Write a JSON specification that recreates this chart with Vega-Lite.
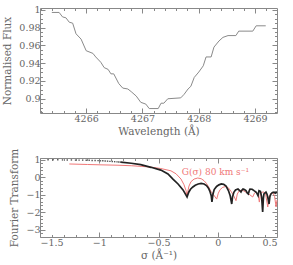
{
  "$schema": "https://vega.github.io/schema/vega-lite/v6.json",
  "padding": {"left": 2, "top": 4, "right": 0, "bottom": 0},
  "bounds": "flush",
  "spacing": 45,
  "config": {
    "font": "DejaVu Serif",
    "view": {"stroke": "#888", "strokeWidth": 1},
    "axis": {
      "grid": false, "domain": false,
      "labelFont": "DejaVu Serif", "titleFont": "DejaVu Serif",
      "labelFontSize": 9.5, "titleFontSize": 10.5,
      "labelColor": "#666", "titleColor": "#666", "titleFontWeight": "normal",
      "tickColor": "#888", "tickSize": -5, "labelPadding": 5
    }
  },
  "datasets": {
    "flux": [
      {"wl": 4265.39, "f": 0.997}, {"wl": 4265.52, "f": 0.997}, {"wl": 4265.58, "f": 0.992},
      {"wl": 4265.64, "f": 0.991}, {"wl": 4265.70, "f": 0.986}, {"wl": 4265.76, "f": 0.985},
      {"wl": 4265.82, "f": 0.973}, {"wl": 4265.91, "f": 0.967}, {"wl": 4266.00, "f": 0.954},
      {"wl": 4266.12, "f": 0.951}, {"wl": 4266.17, "f": 0.947}, {"wl": 4266.26, "f": 0.941},
      {"wl": 4266.32, "f": 0.935}, {"wl": 4266.39, "f": 0.933}, {"wl": 4266.44, "f": 0.928},
      {"wl": 4266.49, "f": 0.928}, {"wl": 4266.58, "f": 0.917}, {"wl": 4266.65, "f": 0.912},
      {"wl": 4266.74, "f": 0.911}, {"wl": 4266.80, "f": 0.908}, {"wl": 4266.89, "f": 0.903},
      {"wl": 4266.97, "f": 0.896}, {"wl": 4267.06, "f": 0.894}, {"wl": 4267.12, "f": 0.889},
      {"wl": 4267.28, "f": 0.889}, {"wl": 4267.33, "f": 0.895}, {"wl": 4267.38, "f": 0.895},
      {"wl": 4267.45, "f": 0.900}, {"wl": 4267.68, "f": 0.901}, {"wl": 4267.74, "f": 0.905},
      {"wl": 4267.81, "f": 0.911}, {"wl": 4267.86, "f": 0.914}, {"wl": 4267.92, "f": 0.924},
      {"wl": 4268.00, "f": 0.930}, {"wl": 4268.08, "f": 0.937}, {"wl": 4268.13, "f": 0.947},
      {"wl": 4268.22, "f": 0.947}, {"wl": 4268.27, "f": 0.958}, {"wl": 4268.36, "f": 0.965},
      {"wl": 4268.43, "f": 0.969}, {"wl": 4268.52, "f": 0.971}, {"wl": 4268.66, "f": 0.971},
      {"wl": 4268.71, "f": 0.976}, {"wl": 4268.96, "f": 0.976}, {"wl": 4269.02, "f": 0.982},
      {"wl": 4269.19, "f": 0.982}
    ],
    "ftpts": [
      {"s": -1.432, "v": 1.0}, {"s": -1.39, "v": 1.0}, {"s": -1.35, "v": 1.0}, {"s": -1.31, "v": 0.99},
      {"s": -1.27, "v": 0.99}, {"s": -1.235, "v": 0.99}, {"s": -1.2, "v": 0.98}, {"s": -1.17, "v": 0.98},
      {"s": -1.14, "v": 0.98}, {"s": -1.11, "v": 0.97}, {"s": -1.085, "v": 0.97}, {"s": -1.06, "v": 0.96},
      {"s": -1.035, "v": 0.96}, {"s": -1.01, "v": 0.95}, {"s": -0.99, "v": 0.94}, {"s": -0.97, "v": 0.94},
      {"s": -0.95, "v": 0.93}, {"s": -0.93, "v": 0.92}, {"s": -0.91, "v": 0.91}, {"s": -0.89, "v": 0.90},
      {"s": -0.87, "v": 0.89}, {"s": -0.85, "v": 0.88}, {"s": -0.835, "v": 0.87}, {"s": -0.82, "v": 0.86}
    ],
    "ftline": [
      {"s": -0.82, "v": 0.86}, {"s": -0.73, "v": 0.80}, {"s": -0.65, "v": 0.72}, {"s": -0.563, "v": 0.57},
      {"s": -0.48, "v": 0.41}, {"s": -0.42, "v": 0.19}, {"s": -0.378, "v": -0.1}, {"s": -0.335, "v": -0.38},
      {"s": -0.293, "v": -0.72}, {"s": -0.259, "v": -1.12}, {"s": -0.245, "v": -0.85}, {"s": -0.23, "v": -0.68},
      {"s": -0.21, "v": -0.55}, {"s": -0.19, "v": -0.45}, {"s": -0.165, "v": -0.38}, {"s": -0.14, "v": -0.35},
      {"s": -0.115, "v": -0.38}, {"s": -0.095, "v": -0.47}, {"s": -0.078, "v": -0.62}, {"s": -0.065, "v": -0.82},
      {"s": -0.055, "v": -1.05}, {"s": -0.049, "v": -1.4}, {"s": -0.04, "v": -0.95}, {"s": -0.03, "v": -0.7},
      {"s": -0.01, "v": -0.52}, {"s": 0.01, "v": -0.43}, {"s": 0.03, "v": -0.38}, {"s": 0.05, "v": -0.40},
      {"s": 0.07, "v": -0.5}, {"s": 0.09, "v": -0.75}, {"s": 0.105, "v": -1.05}, {"s": 0.118, "v": -1.52},
      {"s": 0.125, "v": -1.1}, {"s": 0.137, "v": -0.84}, {"s": 0.15, "v": -0.72}, {"s": 0.171, "v": -0.67},
      {"s": 0.185, "v": -0.75}, {"s": 0.196, "v": -0.84}, {"s": 0.205, "v": -0.72}, {"s": 0.213, "v": -0.67},
      {"s": 0.225, "v": -0.70}, {"s": 0.238, "v": -0.76}, {"s": 0.25, "v": -0.9}, {"s": 0.258, "v": -0.95},
      {"s": 0.265, "v": -0.78}, {"s": 0.272, "v": -0.67}, {"s": 0.29, "v": -0.68}, {"s": 0.306, "v": -0.76},
      {"s": 0.325, "v": -0.85}, {"s": 0.34, "v": -1.05}, {"s": 0.348, "v": -0.76}, {"s": 0.36, "v": -0.8},
      {"s": 0.37, "v": -1.1}, {"s": 0.379, "v": -1.97}, {"s": 0.385, "v": -1.2}, {"s": 0.39, "v": -0.95},
      {"s": 0.407, "v": -0.84}, {"s": 0.415, "v": -0.95}, {"s": 0.422, "v": -1.12}, {"s": 0.433, "v": -1.52},
      {"s": 0.44, "v": -1.1}, {"s": 0.449, "v": -0.95}, {"s": 0.462, "v": -0.86}, {"s": 0.475, "v": -0.84},
      {"s": 0.485, "v": -0.9}, {"s": 0.5, "v": -0.85}
    ],
    "gauss": [
      {"s": -1.253, "v": 0.76}, {"s": -1.1, "v": 0.73}, {"s": -0.985, "v": 0.71}, {"s": -0.85, "v": 0.69},
      {"s": -0.73, "v": 0.66}, {"s": -0.64, "v": 0.62}, {"s": -0.563, "v": 0.58}, {"s": -0.48, "v": 0.50},
      {"s": -0.395, "v": 0.37}, {"s": -0.352, "v": 0.20}, {"s": -0.31, "v": -0.10}, {"s": -0.285, "v": -0.42},
      {"s": -0.268, "v": -0.75}, {"s": -0.259, "v": -1.1}, {"s": -0.25, "v": -0.72}, {"s": -0.243, "v": -0.5},
      {"s": -0.226, "v": -0.25}, {"s": -0.2, "v": -0.1}, {"s": -0.169, "v": -0.04}, {"s": -0.14, "v": -0.08},
      {"s": -0.116, "v": -0.19}, {"s": -0.095, "v": -0.35}, {"s": -0.075, "v": -0.58}, {"s": -0.057, "v": -0.8},
      {"s": -0.035, "v": -1.0}, {"s": -0.009, "v": -1.24}, {"s": 0.005, "v": -0.9}, {"s": 0.02, "v": -0.7},
      {"s": 0.042, "v": -0.57}, {"s": 0.07, "v": -0.52}, {"s": 0.09, "v": -0.6}, {"s": 0.112, "v": -0.8},
      {"s": 0.135, "v": -1.05}, {"s": 0.154, "v": -1.33}, {"s": 0.165, "v": -0.95}, {"s": 0.18, "v": -0.78},
      {"s": 0.196, "v": -0.74}, {"s": 0.215, "v": -0.76}, {"s": 0.238, "v": -0.85}, {"s": 0.262, "v": -0.95},
      {"s": 0.295, "v": -1.12}, {"s": 0.31, "v": -0.9}, {"s": 0.323, "v": -0.84}, {"s": 0.34, "v": -0.95},
      {"s": 0.351, "v": -1.41}, {"s": 0.36, "v": -0.95}, {"s": 0.375, "v": -0.84}, {"s": 0.39, "v": -0.84},
      {"s": 0.405, "v": -1.0}, {"s": 0.422, "v": -1.69}, {"s": 0.432, "v": -1.1}, {"s": 0.449, "v": -0.92},
      {"s": 0.466, "v": -0.88}, {"s": 0.48, "v": -1.1}, {"s": 0.492, "v": -1.69}, {"s": 0.5, "v": -1.3}
    ],
    "lbl": [{"s": -0.02, "v": 0.12, "t": "G(σ) 80 km s⁻¹"}]
  },
  "vconcat": [
    {
      "width": 237, "height": 105,
      "data": {"name": "flux"},
      "layer": [
        {
          "mark": {"type": "line", "color": "#8a8a8a", "strokeWidth": 1},
          "encoding": {
            "x": {"field": "wl", "type": "quantitative",
              "scale": {"domain": [4265.18, 4269.39], "nice": false, "zero": false},
              "axis": {"orient": "bottom", "values": [4266, 4267, 4268, 4269], "format": "d", "title": "Wavelength (Å)", "titlePadding": 4}},
            "y": {"field": "f", "type": "quantitative",
              "scale": {"domain": [0.884, 1.002], "nice": false, "zero": false},
              "axis": {"orient": "left", "values": [0.9, 0.92, 0.94, 0.96, 0.98, 1], "format": "~g", "title": "Normalised Flux", "titlePadding": 6}}
          }
        },
        {
          "mark": {"type": "line", "opacity": 0},
          "encoding": {
            "x": {"field": "wl", "type": "quantitative",
              "scale": {"domain": [4265.18, 4269.39], "nice": false, "zero": false},
              "axis": {"orient": "top", "values": [4266, 4267, 4268, 4269], "labels": false, "title": null}},
            "y": {"field": "f", "type": "quantitative",
              "scale": {"domain": [0.884, 1.002], "nice": false, "zero": false},
              "axis": {"orient": "right", "values": [0.9, 0.92, 0.94, 0.96, 0.98, 1], "labels": false, "title": null}}
          }
        },
        {
          "mark": {"type": "line", "opacity": 0},
          "encoding": {
            "x": {"field": "wl", "type": "quantitative",
              "scale": {"domain": [4265.18, 4269.39], "nice": false, "zero": false},
              "axis": {"orient": "bottom", "values": [4265.2, 4265.4, 4265.6, 4265.8, 4266.2, 4266.4, 4266.6, 4266.8, 4267.2, 4267.4, 4267.6, 4267.8, 4268.2, 4268.4, 4268.6, 4268.8, 4269.2], "labels": false, "title": null, "tickSize": -2.5}},
            "y": {"field": "f", "type": "quantitative",
              "scale": {"domain": [0.884, 1.002], "nice": false, "zero": false},
              "axis": {"orient": "left", "values": [0.885, 0.89, 0.895, 0.905, 0.91, 0.915, 0.925, 0.93, 0.935, 0.945, 0.95, 0.955, 0.965, 0.97, 0.975, 0.985, 0.99, 0.995], "labels": false, "title": null, "tickSize": -2.5}}
          }
        },
        {
          "mark": {"type": "line", "opacity": 0},
          "encoding": {
            "x": {"field": "wl", "type": "quantitative",
              "scale": {"domain": [4265.18, 4269.39], "nice": false, "zero": false},
              "axis": {"orient": "top", "values": [4265.2, 4265.4, 4265.6, 4265.8, 4266.2, 4266.4, 4266.6, 4266.8, 4267.2, 4267.4, 4267.6, 4267.8, 4268.2, 4268.4, 4268.6, 4268.8, 4269.2], "labels": false, "title": null, "tickSize": -2.5}},
            "y": {"field": "f", "type": "quantitative",
              "scale": {"domain": [0.884, 1.002], "nice": false, "zero": false},
              "axis": {"orient": "right", "values": [0.885, 0.89, 0.895, 0.905, 0.91, 0.915, 0.925, 0.93, 0.935, 0.945, 0.95, 0.955, 0.965, 0.97, 0.975, 0.985, 0.99, 0.995], "labels": false, "title": null, "tickSize": -2.5}}
          }
        }
      ],
      "resolve": {"axis": {"x": "independent", "y": "independent"}}
    },
    {
      "width": 237, "height": 79,
      "layer": [
        {
          "data": {"name": "gauss"},
          "mark": {"type": "line", "color": "#f07878", "strokeWidth": 1},
          "encoding": {
            "x": {"field": "s", "type": "quantitative",
              "scale": {"domain": [-1.5, 0.5], "nice": false, "zero": false},
              "axis": {"orient": "bottom", "values": [-1.5, -1, -0.5, 0, 0.5], "format": "~g", "title": "σ (Å⁻¹)", "titlePadding": 4}},
            "y": {"field": "v", "type": "quantitative",
              "scale": {"domain": [-3.4, 1.1], "nice": false, "zero": false},
              "axis": {"orient": "left", "values": [-3, -2, -1, 0, 1], "format": "~g", "title": "Fourier Transform", "titlePadding": 6}}
          }
        },
        {
          "data": {"name": "ftline"},
          "mark": {"type": "line", "color": "#222", "strokeWidth": 1.7},
          "encoding": {
            "x": {"field": "s", "type": "quantitative",
              "scale": {"domain": [-1.5, 0.5], "nice": false, "zero": false},
              "axis": {"orient": "top", "values": [-1.5, -1, -0.5, 0, 0.5], "labels": false, "title": null}},
            "y": {"field": "v", "type": "quantitative",
              "scale": {"domain": [-3.4, 1.1], "nice": false, "zero": false},
              "axis": {"orient": "right", "values": [-3, -2, -1, 0, 1], "labels": false, "title": null}}
          }
        },
        {
          "data": {"name": "ftpts"},
          "mark": {"type": "point", "shape": "square", "filled": true, "size": 2, "color": "#555", "opacity": 1},
          "encoding": {
            "x": {"field": "s", "type": "quantitative",
              "scale": {"domain": [-1.5, 0.5], "nice": false, "zero": false},
              "axis": {"orient": "bottom", "values": [-1.4, -1.3, -1.2, -1.1, -0.9, -0.8, -0.7, -0.6, -0.4, -0.3, -0.2, -0.1, 0.1, 0.2, 0.3, 0.4], "labels": false, "title": null, "tickSize": -2.5}},
            "y": {"field": "v", "type": "quantitative",
              "scale": {"domain": [-3.4, 1.1], "nice": false, "zero": false},
              "axis": {"orient": "left", "values": [-3.2, -2.8, -2.6, -2.4, -2.2, -1.8, -1.6, -1.4, -1.2, -0.8, -0.6, -0.4, -0.2, 0.2, 0.4, 0.6, 0.8], "labels": false, "title": null, "tickSize": -2.5}}
          }
        },
        {
          "data": {"name": "ftpts"},
          "mark": {"type": "point", "opacity": 0},
          "encoding": {
            "x": {"field": "s", "type": "quantitative",
              "scale": {"domain": [-1.5, 0.5], "nice": false, "zero": false},
              "axis": {"orient": "top", "values": [-1.4, -1.3, -1.2, -1.1, -0.9, -0.8, -0.7, -0.6, -0.4, -0.3, -0.2, -0.1, 0.1, 0.2, 0.3, 0.4], "labels": false, "title": null, "tickSize": -2.5}},
            "y": {"field": "v", "type": "quantitative",
              "scale": {"domain": [-3.4, 1.1], "nice": false, "zero": false},
              "axis": {"orient": "right", "values": [-3.2, -2.8, -2.6, -2.4, -2.2, -1.8, -1.6, -1.4, -1.2, -0.8, -0.6, -0.4, -0.2, 0.2, 0.4, 0.6, 0.8], "labels": false, "title": null, "tickSize": -2.5}}
          }
        },
        {
          "data": {"name": "lbl"},
          "mark": {"type": "text", "color": "#f07878", "font": "DejaVu Serif", "fontSize": 9, "align": "center", "baseline": "alphabetic"},
          "encoding": {
            "x": {"field": "s", "type": "quantitative", "scale": {"domain": [-1.5, 0.5], "nice": false, "zero": false}, "axis": null},
            "y": {"field": "v", "type": "quantitative", "scale": {"domain": [-3.4, 1.1], "nice": false, "zero": false}, "axis": null},
            "text": {"field": "t"}
          }
        }
      ],
      "resolve": {"axis": {"x": "independent", "y": "independent"}}
    }
  ]
}
